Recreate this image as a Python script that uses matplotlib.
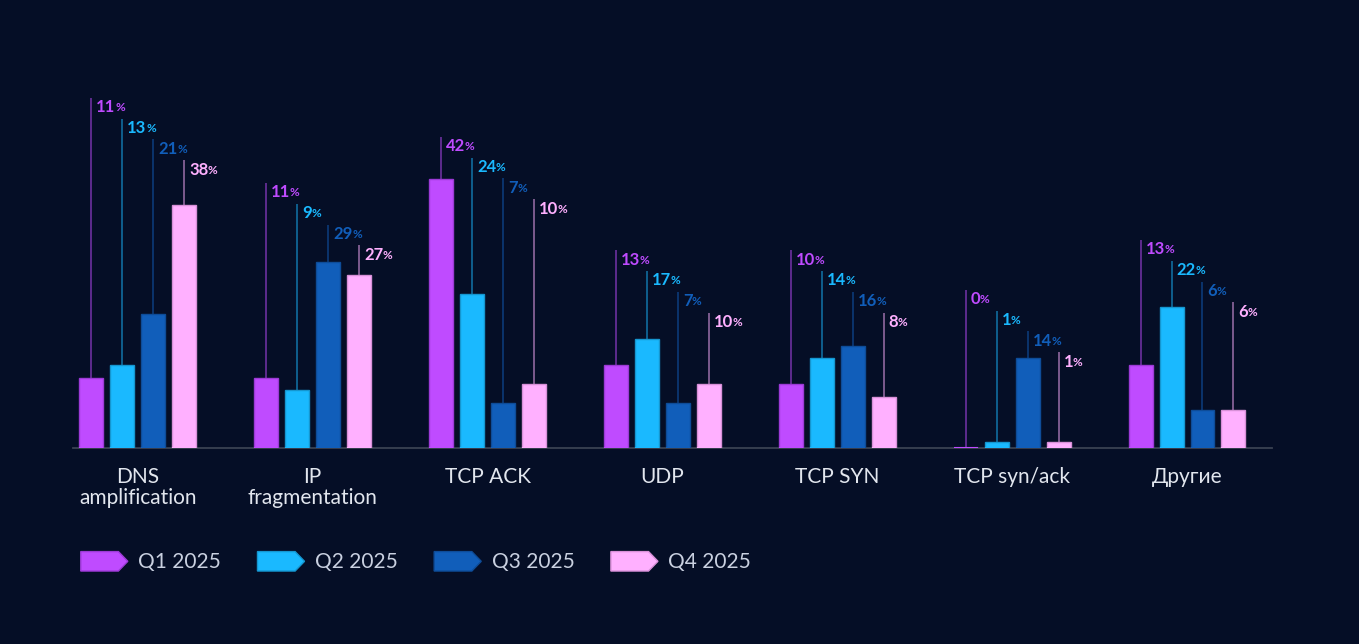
import matplotlib
matplotlib.use("Agg")
import matplotlib.pyplot as plt
import numpy as np
from matplotlib.patches import Polygon
from matplotlib.legend_handler import HandlerPatch

# %%
# Data
categories = ["DNS\namplification", "IP\nfragmentation", "TCP ACK", "UDP",
              "TCP SYN", "TCP syn/ack", "Другие"]
series = ["Q1 2025", "Q2 2025", "Q3 2025", "Q4 2025"]
q1 = [11, 11, 42, 13, 10, 0, 13]
q2 = [13, 9, 24, 17, 14, 1, 22]
q3 = [21, 29, 7, 7, 16, 14, 6]
q4 = [38, 27, 10, 10, 8, 1, 6]
values = [q1, q2, q3, q4]

# label anchor level (in %) for the first series of each group
label_top = [54.7, 41.4, 48.6, 30.9, 30.9, 24.7, 32.5]

colors = ["#BF4BFF", "#1AB9FF", "#115EBA", "#FFB0FF"]
edges = ["#9C3AD6", "#1596D0", "#0E4C98", "#D890D8"]
bg = "#050E26"
font = ["Lato", "DejaVu Sans"]
plt.rcParams["font.family"] = font


class HandlerPentagon(HandlerPatch):
    def create_artists(self, legend, orig_handle, xdescent, ydescent,
                       width, height, fontsize, trans):
        x0, y0 = -xdescent, -ydescent
        pts = [(x0, y0), (x0 + width * 0.8, y0), (x0 + width, y0 + height / 2),
               (x0 + width * 0.8, y0 + height), (x0, y0 + height)]
        p = Polygon(pts, closed=True, facecolor=orig_handle.get_facecolor(),
                    edgecolor=orig_handle.get_edgecolor(), lw=1, transform=trans)
        return [p]


fig = plt.figure(figsize=(13.59, 6.44), dpi=100, facecolor=bg)
ax = fig.add_axes([73 / 1359, 196 / 644, 1199 / 1359, 388 / 644])
ax.set_facecolor(bg)

x = np.arange(len(categories))
pitch = 0.177
width = 0.137
stagger = 3.25
handles = []
for j, vals in enumerate(values):
    xs = x + (j - 1.5) * pitch
    b = ax.bar(xs, vals, width=width, color=colors[j], edgecolor=edges[j],
               linewidth=1, zorder=3, label=series[j])
    # base stroke so that zero-height bars still show as a thin line
    ax.hlines(np.zeros_like(xs), xs - width / 2, xs + width / 2,
              color=colors[j], lw=1.5, zorder=3.5)
    handles.append(b.patches[0])
    for xi, v, top in zip(xs, vals, label_top):
        ytop = top - j * stagger
        ax.plot([xi, xi], [v, ytop], color=colors[j], alpha=0.6, lw=1.1,
                zorder=2, solid_capstyle="butt")
        num = ax.annotate(str(v), xy=(xi, ytop), xytext=(3.5, -1),
                          textcoords="offset points", ha="left", va="top",
                          fontsize=12, fontweight="bold", color=colors[j])
        ax.annotate("%", xy=(1, 0.12), xycoords=num, xytext=(-0.3, 0),
                    textcoords="offset points", ha="left", va="bottom",
                    fontsize=8.5, fontweight="bold", color=colors[j])

ax.set_xlim(-0.371, 6.486)
ax.set_ylim(0, 60.6)
ax.set_yticks([])
ax.set_xticks(x)
ax.set_xticklabels(categories, fontsize=15, color="#E2E6EE", linespacing=1.05)
ax.tick_params(axis="x", length=0, pad=14)
for s in ["top", "right", "left"]:
    ax.spines[s].set_visible(False)
ax.spines["bottom"].set_color("#3A4152")
ax.spines["bottom"].set_linewidth(1.3)
ax.spines["bottom"].set_zorder(1)

leg = fig.legend(handles=handles, labels=series, loc="center left",
                 bbox_to_anchor=(62 / 1359, 1 - 562 / 644), ncol=4,
                 frameon=False, fontsize=15, handlelength=2.26,
                 handleheight=1.06, handletextpad=0.5, columnspacing=1.75,
                 handler_map={type(handles[0]): HandlerPentagon()})
for t in leg.get_texts():
    t.set_color("#C9D0E0")

fig.savefig("out.png", dpi=100, facecolor=bg)
